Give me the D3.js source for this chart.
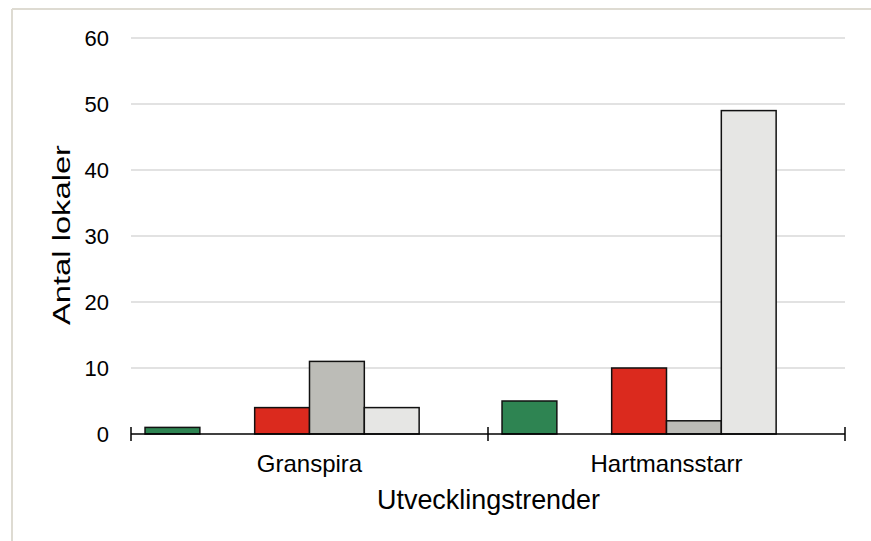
<!DOCTYPE html>
<html lang="sv">
<head>
<meta charset="utf-8">
<style>
body { margin: 0; background: #fff; }
text { font-family: "Liberation Sans", Arial, sans-serif; fill: #000; }
</style>
</head>
<body>
<svg width="871" height="541"></svg>
<script src="https://d3js.org/d3.v7.min.js"></script>
<script>
// data
var categories = ["Granspira", "Hartmansstarr"];
var seriesNames = ["s1", "s2", "s3", "s4", "s5", "s6"];
var granspira = [1, 0, 4, 11, 4, 0];
var hartmansstarr = [5, 0, 10, 2, 49, 0];
var seriesColors = ["#2e8452", "#ffffff", "#db2a1e", "#bcbcb7", "#e6e6e4", "#ffffff"];
var yTicks = [0, 10, 20, 30, 40, 50, 60];

var values = [granspira, hartmansstarr];

var svg = d3.select("svg");

// outer frame, left and top edges only
svg.append("line").attr("x1", 12).attr("x2", 12).attr("y1", 9).attr("y2", 541)
    .attr("stroke", "#dedbd2").attr("stroke-width", 2);
svg.append("line").attr("x1", 12).attr("x2", 871).attr("y1", 9).attr("y2", 9)
    .attr("stroke", "#dedbd2").attr("stroke-width", 2);

var x0 = d3.scaleBand().domain(categories).range([131, 845]).paddingInner(0).paddingOuter(0);
var x1 = d3.scaleBand().domain(seriesNames).range([0, x0.bandwidth()]).paddingOuter(0.256).paddingInner(0);
var y = d3.scaleLinear().domain([0, 60]).range([434, 38]);

// gridlines
svg.append("g")
  .selectAll("line")
  .data(yTicks.filter(function(d) { return d > 0; }))
  .enter().append("line")
    .attr("x1", 131).attr("x2", 845)
    .attr("y1", function(d) { return y(d); })
    .attr("y2", function(d) { return y(d); })
    .attr("stroke", "#d9d9d9").attr("stroke-width", 1.5);

// y tick labels
svg.append("g")
  .selectAll("text")
  .data(yTicks)
  .enter().append("text")
    .attr("x", 109)
    .attr("y", function(d) { return y(d); })
    .attr("dy", "0.35em")
    .attr("text-anchor", "end")
    .attr("font-size", 22)
    .text(function(d) { return d; });

// bars
var groups = svg.append("g")
  .selectAll("g")
  .data(categories)
  .enter().append("g")
    .attr("transform", function(d) { return "translate(" + x0(d) + ",0)"; });

groups.selectAll("rect")
  .data(function(d, i) {
    return values[i].map(function(v, j) { return {s: seriesNames[j], v: v, c: seriesColors[j]}; })
      .filter(function(e) { return e.v > 0; });
  })
  .enter().append("rect")
    .attr("x", function(d) { return x1(d.s); })
    .attr("width", x1.bandwidth())
    .attr("y", function(d) { return y(d.v); })
    .attr("height", function(d) { return y(0) - y(d.v); })
    .attr("fill", function(d) { return d.c; })
    .attr("stroke", "#111").attr("stroke-width", 1.5);

// x axis
var xAxis = svg.append("g");
xAxis.append("line").attr("x1", 131).attr("x2", 845).attr("y1", y(0)).attr("y2", y(0))
    .attr("stroke", "#000").attr("stroke-width", 1.5);
xAxis.selectAll("line.tick")
  .data([131, 131 + x0.bandwidth(), 845])
  .enter().append("line")
    .attr("class", "tick")
    .attr("x1", function(d) { return d; }).attr("x2", function(d) { return d; })
    .attr("y1", 427).attr("y2", 441)
    .attr("stroke", "#000").attr("stroke-width", 1.5);
xAxis.selectAll("text")
  .data(categories)
  .enter().append("text")
    .attr("x", function(d) { return x0(d) + x0.bandwidth() / 2; })
    .attr("y", 472)
    .attr("text-anchor", "middle")
    .attr("font-size", 24)
    .text(function(d) { return d; });

// axis titles
svg.append("text")
    .attr("x", 488.5).attr("y", 509)
    .attr("text-anchor", "middle")
    .attr("font-size", 28)
    .attr("textLength", 223)
    .attr("lengthAdjust", "spacingAndGlyphs")
    .text("Utvecklingstrender");

svg.append("text")
    .attr("transform", "translate(70,235) rotate(-90)")
    .attr("text-anchor", "middle")
    .attr("font-size", 23.5)
    .attr("textLength", 180)
    .attr("lengthAdjust", "spacingAndGlyphs")
    .text("Antal lokaler");
</script>
</body>
</html>
